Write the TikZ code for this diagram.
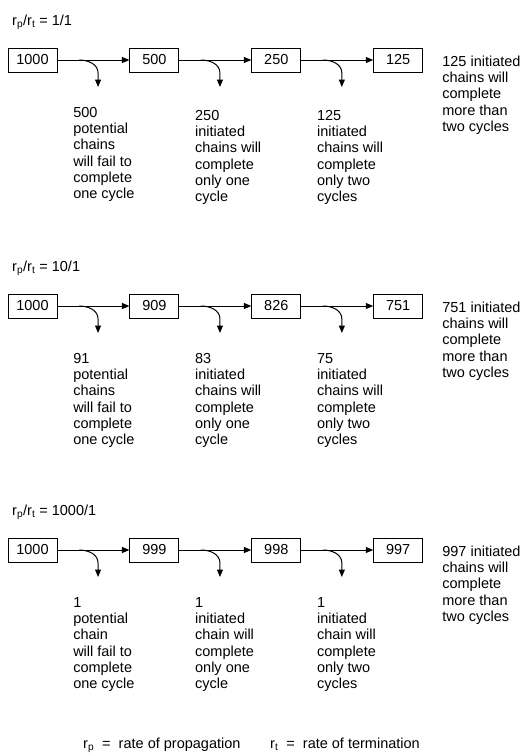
\documentclass[tikz,border=0pt]{standalone}
\usepackage{fontspec}
\setmainfont{Liberation Sans}
\usetikzlibrary{arrows.meta,positioning,calc}
\newcommand{\lblfont}{\fontsize{14.5pt}{16.3pt}\selectfont}
\tikzset{
  cnt/.style={rectangle, draw, line width=0.9pt, minimum width=49pt, minimum height=24pt,
              inner sep=0pt, font=\lblfont},
  lbl/.style={align=left, font=\lblfont, inner sep=0pt, anchor=north west},
  ttl/.style={font=\lblfont, inner sep=0pt, anchor=base west},
  arr/.style={-{Triangle[length=7.5pt,width=6pt]}, line width=1pt},
}
\begin{document}
\begin{tikzpicture}[x=1pt, y=1pt, node distance=72pt]
  \useasboundingbox (0,0) rectangle (521,-753);
  % rp/rt = 1/1
  \node[ttl] (ta) at (12,-25) {r\textsubscript{p}/r\textsubscript{t} = 1/1};
  \node[cnt] (a1) at (32.5,-60) {1000};
  \node[cnt, right=of a1] (a2) {500};
  \node[cnt, right=of a2] (a3) {250};
  \node[cnt, right=of a3] (a4) {125};
  \draw[arr] (a1) -- coordinate[pos=0.3] (sa1) (a2);
  \draw[arr] (a2) -- coordinate[pos=0.3] (sa2) (a3);
  \draw[arr] (a3) -- coordinate[pos=0.3] (sa3) (a4);
  \draw[arr] (sa1) to[out=0,in=90] ++(19,-13) -- ++(0,-14) coordinate (ea1);
  \draw[arr] (sa2) to[out=0,in=90] ++(19,-13) -- ++(0,-14) coordinate (ea2);
  \draw[arr] (sa3) to[out=0,in=90] ++(19,-13) -- ++(0,-14) coordinate (ea3);
  \node[lbl] (da1) at ($(ea1)+(-25,-20)$) {500\\potential\\chains\\will fail to\\complete\\one cycle};
  \node[lbl] (da2) at ($(ea2)+(-25,-23)$) {250\\initiated\\chains will\\complete\\only one\\cycle};
  \node[lbl] (da3) at ($(ea3)+(-25,-23)$) {125\\initiated\\chains will\\complete\\only two\\cycles};
  \node[lbl] (da4) at ($(a4.north east)+(19,-8)$) {125 initiated\\chains will\\complete\\more than\\two cycles};

  % rp/rt = 10/1
  \node[ttl] (tb) at (12,-271) {r\textsubscript{p}/r\textsubscript{t} = 10/1};
  \node[cnt] (b1) at (32.5,-306) {1000};
  \node[cnt, right=of b1] (b2) {909};
  \node[cnt, right=of b2] (b3) {826};
  \node[cnt, right=of b3] (b4) {751};
  \draw[arr] (b1) -- coordinate[pos=0.3] (sb1) (b2);
  \draw[arr] (b2) -- coordinate[pos=0.3] (sb2) (b3);
  \draw[arr] (b3) -- coordinate[pos=0.3] (sb3) (b4);
  \draw[arr] (sb1) to[out=0,in=90] ++(19,-13) -- ++(0,-14) coordinate (eb1);
  \draw[arr] (sb2) to[out=0,in=90] ++(19,-13) -- ++(0,-14) coordinate (eb2);
  \draw[arr] (sb3) to[out=0,in=90] ++(19,-13) -- ++(0,-14) coordinate (eb3);
  \node[lbl] (db1) at ($(eb1)+(-25,-20)$) {91\\potential\\chains\\will fail to\\complete\\one cycle};
  \node[lbl] (db2) at ($(eb2)+(-25,-20)$) {83\\initiated\\chains will\\complete\\only one\\cycle};
  \node[lbl] (db3) at ($(eb3)+(-25,-20)$) {75\\initiated\\chains will\\complete\\only two\\cycles};
  \node[lbl] (db4) at ($(b4.north east)+(19,-8)$) {751 initiated\\chains will\\complete\\more than\\two cycles};

  % rp/rt = 1000/1
  \node[ttl] (tc) at (12,-515) {r\textsubscript{p}/r\textsubscript{t} = 1000/1};
  \node[cnt] (c1) at (32.5,-550) {1000};
  \node[cnt, right=of c1] (c2) {999};
  \node[cnt, right=of c2] (c3) {998};
  \node[cnt, right=of c3] (c4) {997};
  \draw[arr] (c1) -- coordinate[pos=0.3] (sc1) (c2);
  \draw[arr] (c2) -- coordinate[pos=0.3] (sc2) (c3);
  \draw[arr] (c3) -- coordinate[pos=0.3] (sc3) (c4);
  \draw[arr] (sc1) to[out=0,in=90] ++(19,-13) -- ++(0,-14) coordinate (ec1);
  \draw[arr] (sc2) to[out=0,in=90] ++(19,-13) -- ++(0,-14) coordinate (ec2);
  \draw[arr] (sc3) to[out=0,in=90] ++(19,-13) -- ++(0,-14) coordinate (ec3);
  \node[lbl] (dc1) at ($(ec1)+(-25,-20)$) {1\\potential\\chain\\will fail to\\complete\\one cycle};
  \node[lbl] (dc2) at ($(ec2)+(-25,-20)$) {1\\initiated\\chain will\\complete\\only one\\cycle};
  \node[lbl] (dc3) at ($(ec3)+(-25,-20)$) {1\\initiated\\chain will\\complete\\only two\\cycles};
  \node[lbl] (dc4) at ($(c4.north east)+(19,-8)$) {997 initiated\\chains will\\complete\\more than\\two cycles};

  % legend
  \node[ttl] (kp) at (83,-748) {r\textsubscript{p} \ = \ rate of propagation};
  \node[ttl] (kt) at (270,-748) {r\textsubscript{t} \ = \ rate of termination};
\end{tikzpicture}
\end{document}
